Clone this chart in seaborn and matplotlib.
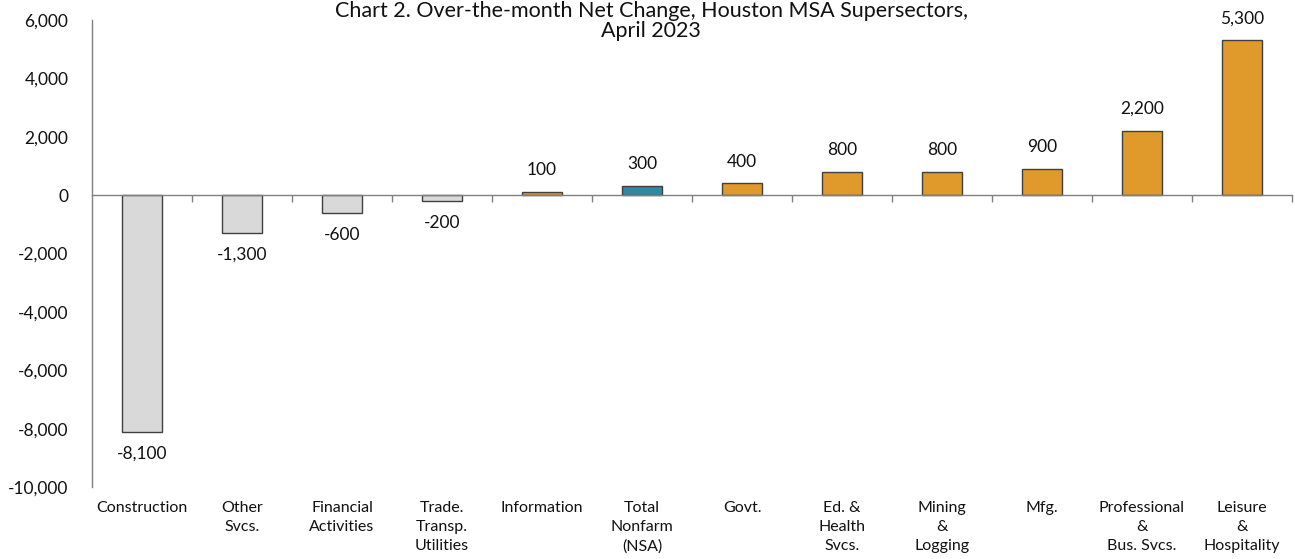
import matplotlib
matplotlib.use("Agg")
import matplotlib.pyplot as plt
import numpy as np
import pandas as pd
import seaborn as sns

# Supersector over-the-month changes, Houston MSA, April 2023
categories = [
    "Construction", "Other\nSvcs.", "Financial\nActivities", "Trade.\nTransp.\nUtilities",
    "Information", "Total\nNonfarm\n(NSA)", "Govt.", "Ed. &\nHealth\nSvcs.",
    "Mining\n&\nLogging", "Mfg.", "Professional\n&\nBus. Svcs.", "Leisure\n&\nHospitality",
]
values = [-8100, -1300, -600, -200, 100, 300, 400, 800, 800, 900, 2200, 5300]
groups = ["loss", "loss", "loss", "loss", "gain", "total", "gain", "gain",
          "gain", "gain", "gain", "gain"]
y_ticks = [6000, 4000, 2000, 0, -2000, -4000, -6000, -8000, -10000]

palette = {"loss": "#D9D9D9", "gain": "#E0992B", "total": "#3089A3"}

sns.set_theme(style="white")
plt.rcParams["font.family"] = ["Lato", "DejaVu Sans"]

df = pd.DataFrame({"cat": categories, "val": values, "grp": groups})

fig = plt.figure(figsize=(12.95, 5.59), dpi=100)
ax = fig.add_axes([92 / 1295, 1 - 487 / 559, 1200 / 1295, 467 / 559])

sns.barplot(data=df, x="cat", y="val", hue="grp", palette=palette, dodge=False,
            saturation=1, width=0.4, edgecolor="#404040", linewidth=1.0,
            legend=False, ax=ax)

ax.set_xlim(-0.5, len(categories) - 0.5)
ax.set_ylim(-10000, 6000)
ax.set_yticks(y_ticks)
ax.set_yticklabels([f"{v:,}" for v in y_ticks], fontsize=12.5, color="#111111")
ax.tick_params(axis="y", length=0, pad=17)
ax.set_xlabel("")
ax.set_ylabel("")

for side in ("top", "right"):
    ax.spines[side].set_visible(False)
ax.spines["left"].set_color("#808080")
ax.spines["left"].set_linewidth(1.0)

# zero line with boundary ticks between categories
ax.spines["bottom"].set_position(("data", 0))
ax.spines["bottom"].set_color("#808080")
ax.spines["bottom"].set_linewidth(1.0)
ax.set_xticks(np.arange(len(categories)) + 0.5)
ax.set_xticklabels([])
ax.tick_params(axis="x", direction="out", length=5, width=1.0, color="#808080",
               bottom=True)

# category labels below the plot area
sec = ax.secondary_xaxis("bottom")
sec.spines["bottom"].set_visible(False)
sec.set_xticks(np.arange(len(categories)))
sec.set_xticklabels(categories, fontsize=11.5, color="#111111", linespacing=1.45,
                    va="top")
sec.tick_params(axis="x", length=0, pad=10)

# value labels
for i, v in enumerate(values):
    off = 10 if v >= 0 else -10
    ax.annotate(f"{v:,}", xy=(i, v), xytext=(0, off), textcoords="offset points",
                ha="center", va="bottom" if v >= 0 else "top",
                fontsize=12.5, color="#111111")

fig.text(0.503, 0.999, "Chart 2. Over-the-month Net Change, Houston MSA Supersectors,\nApril 2023",
         ha="center", va="top", fontsize=15.5, color="#111111", linespacing=1.0)

fig.savefig("out.png", dpi=100)
